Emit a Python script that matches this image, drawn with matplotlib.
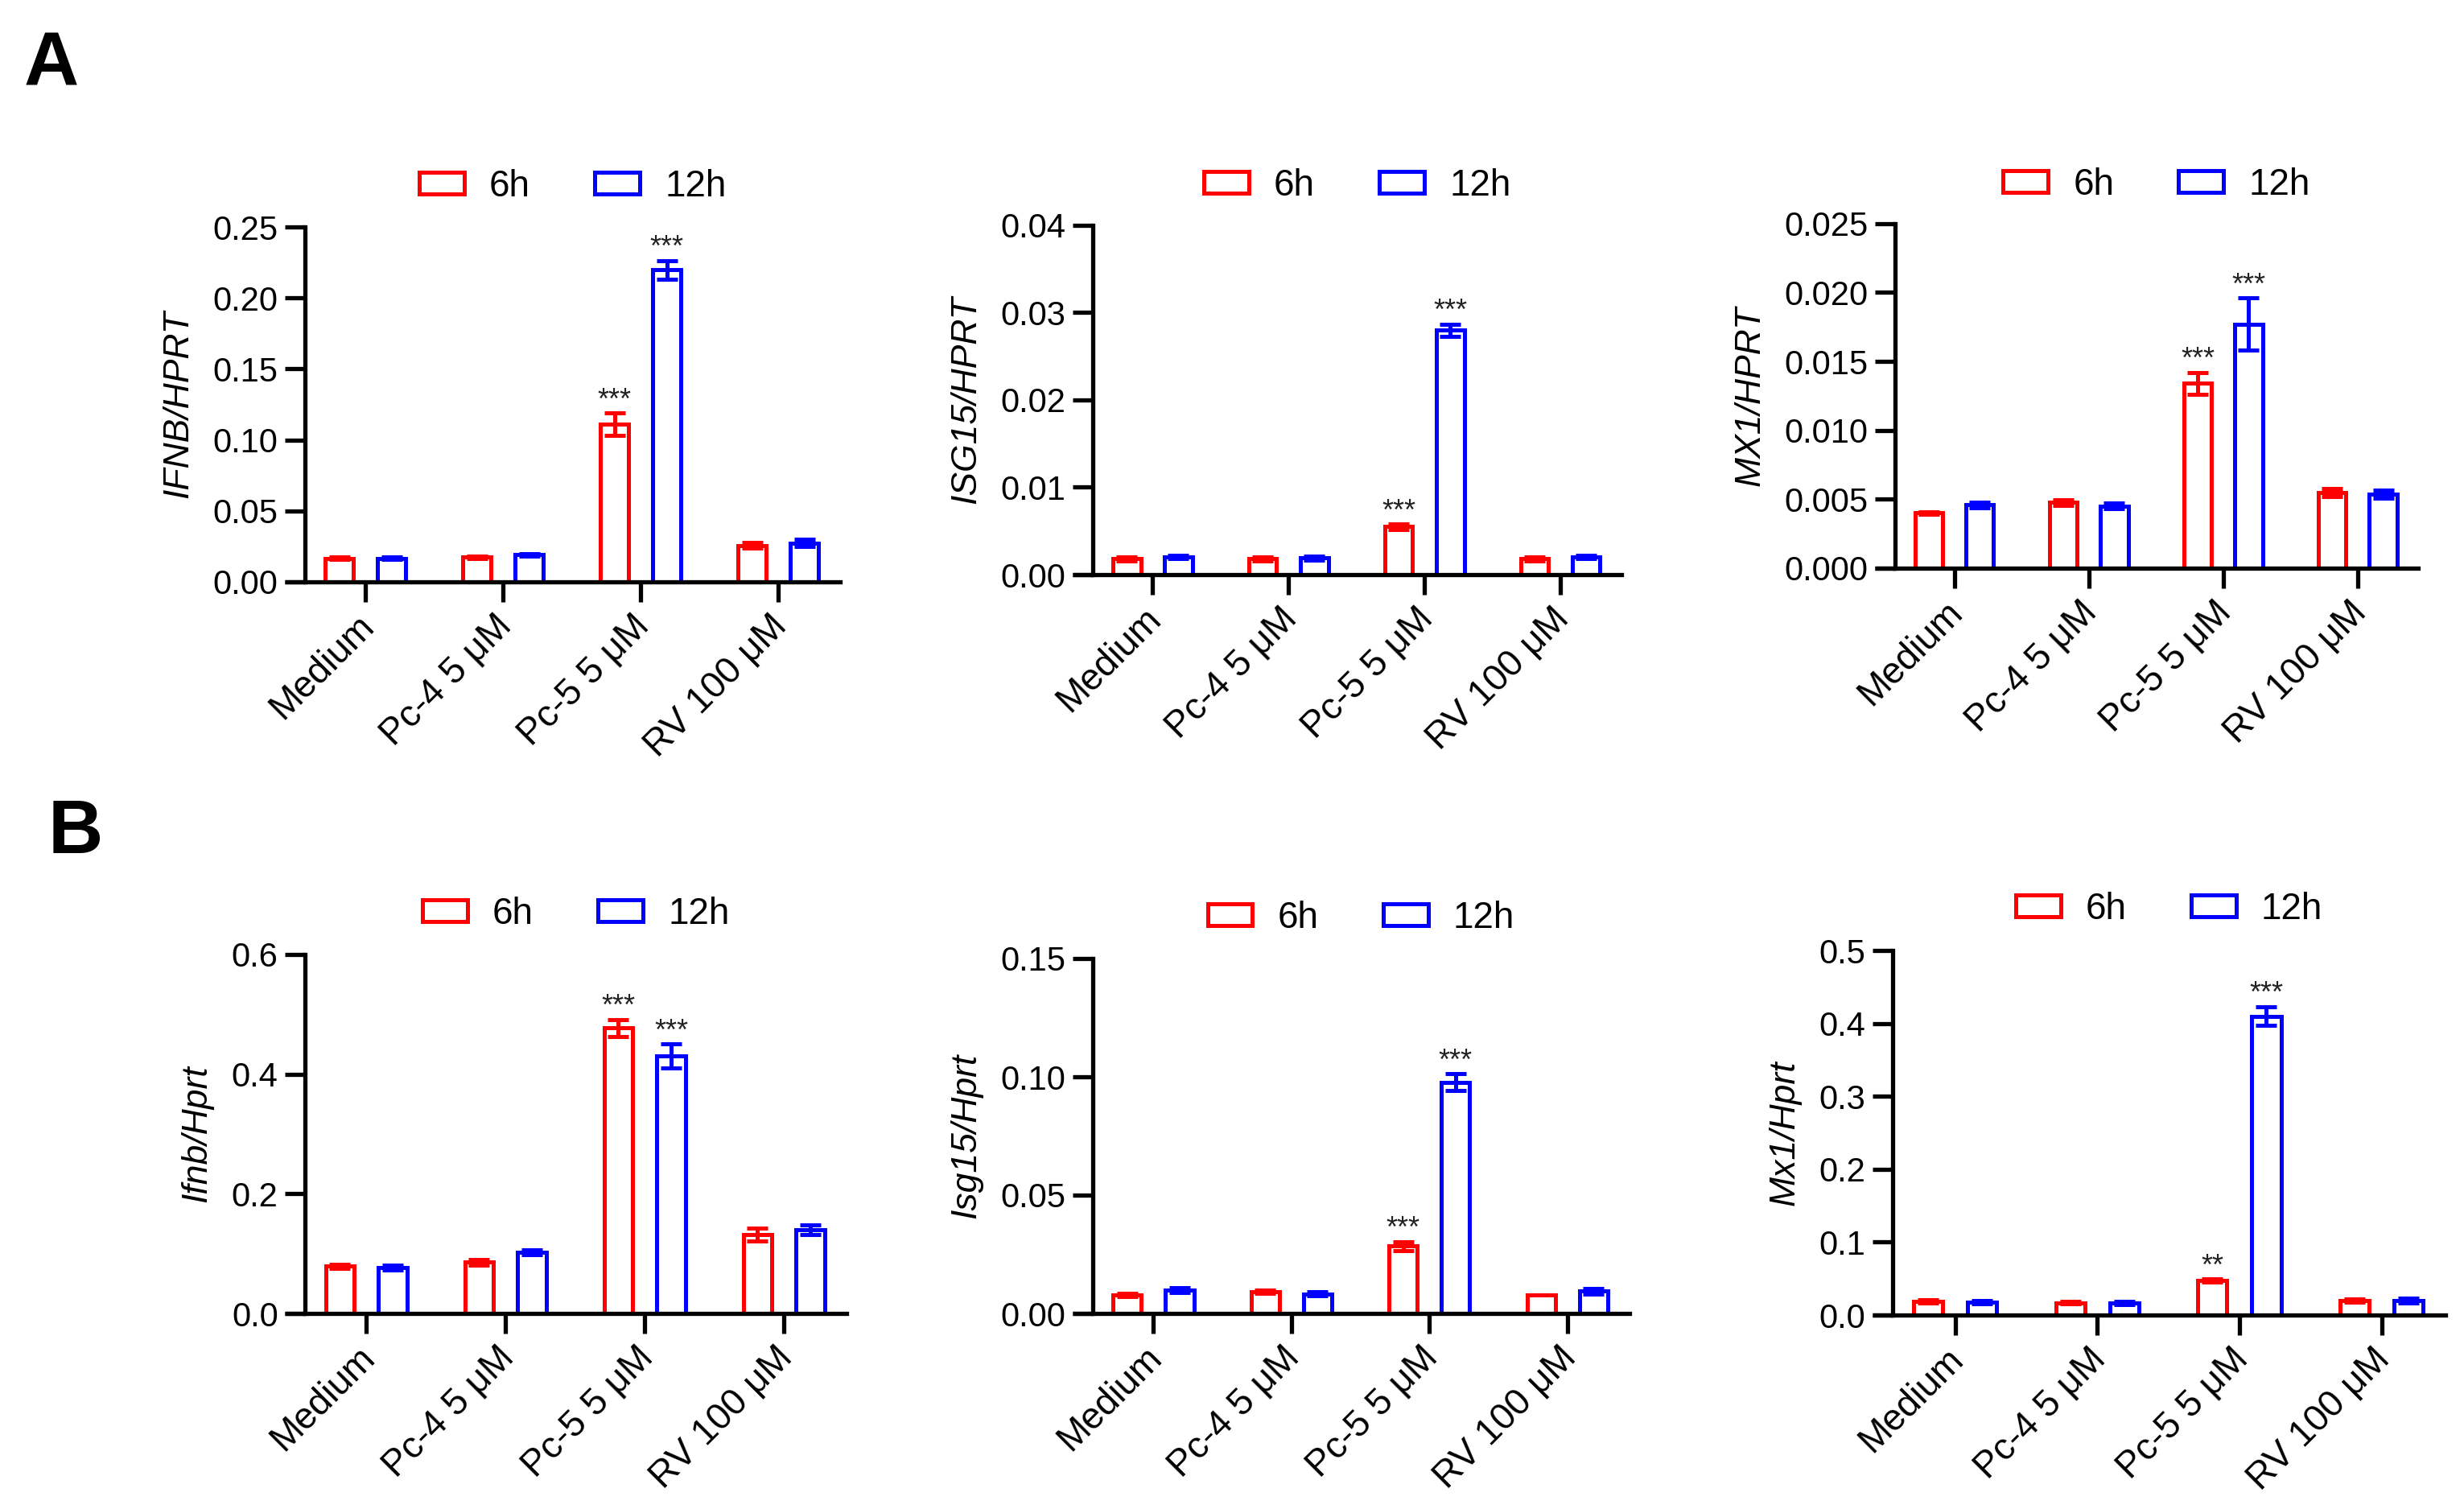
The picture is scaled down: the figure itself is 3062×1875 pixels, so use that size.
import matplotlib
matplotlib.use("Agg")
import matplotlib.pyplot as plt
import numpy as np
from matplotlib.patches import Patch

plt.rcParams['font.family'] = ['Liberation Sans', 'DejaVu Sans']

# --- data ---
categories = ['Medium', 'Pc-4 5 μM', 'Pc-5 5 μM', 'RV 100 μM']
series_names = ['6h', '12h']

# A: human genes
ifnb_6h = [0.0167, 0.0175, 0.111, 0.0257]
ifnb_6h_err = [0.0008, 0.0008, 0.008, 0.002]
ifnb_12h = [0.0167, 0.019, 0.2197, 0.0274]
ifnb_12h_err = [0.0008, 0.0008, 0.0065, 0.0025]
ifnb_stars = [['', '', '***', ''], ['', '', '***', '']]
ifnb_ticks = [0.00, 0.05, 0.10, 0.15, 0.20, 0.25]

isg15_6h = [0.0018, 0.0018, 0.0055, 0.0018]
isg15_6h_err = [0.0002, 0.0002, 0.0003, 0.0002]
isg15_12h = [0.0020, 0.0019, 0.0280, 0.0020]
isg15_12h_err = [0.0002, 0.0002, 0.0007, 0.0002]
isg15_stars = [['', '', '***', ''], ['', '', '***', '']]
isg15_ticks = [0.00, 0.01, 0.02, 0.03, 0.04]

mx1_6h = [0.0040, 0.00476, 0.0134, 0.0055]
mx1_6h_err = [0.0001, 0.0002, 0.0008, 0.0003]
mx1_12h = [0.0046, 0.0045, 0.0177, 0.00535]
mx1_12h_err = [0.0002, 0.0002, 0.0019, 0.0003]
mx1_stars = [['', '', '***', ''], ['', '', '***', '']]
mx1_ticks = [0.000, 0.005, 0.010, 0.015, 0.020, 0.025]

# B: mouse genes
m_ifnb_6h = [0.0787, 0.0855, 0.477, 0.132]
m_ifnb_6h_err = [0.004, 0.005, 0.014, 0.011]
m_ifnb_12h = [0.0766, 0.1026, 0.430, 0.140]
m_ifnb_12h_err = [0.004, 0.004, 0.020, 0.008]
m_ifnb_stars = [['', '', '***', ''], ['', '', '***', '']]
m_ifnb_ticks = [0.0, 0.2, 0.4, 0.6]

m_isg15_6h = [0.0078, 0.0092, 0.0285, 0.0078]
m_isg15_6h_err = [0.0008, 0.0008, 0.0018, 0.0]
m_isg15_12h = [0.0099, 0.0083, 0.0977, 0.0095]
m_isg15_12h_err = [0.0009, 0.0009, 0.0035, 0.0012]
m_isg15_stars = [['', '', '***', ''], ['', '', '***', '']]
m_isg15_ticks = [0.00, 0.05, 0.10, 0.15]

m_mx1_6h = [0.0185, 0.0168, 0.0477, 0.0196]
m_mx1_6h_err = [0.002, 0.0015, 0.002, 0.002]
m_mx1_12h = [0.018, 0.0168, 0.410, 0.020]
m_mx1_12h_err = [0.002, 0.002, 0.013, 0.003]
m_mx1_stars = [['', '', '**', ''], ['', '', '***', '']]
m_mx1_ticks = [0.0, 0.1, 0.2, 0.3, 0.4, 0.5]

RED = '#FF0000'
BLUE = '#0000FF'
BAR_LW = 1.8
AX_LW = 1.9
FS = 15

W, H = 3062, 1875
DPI = 200
fig = plt.figure(figsize=(W / DPI, H / DPI), dpi=DPI)


def draw_panel(rect, ylabel, means, errs, stars, yticks, fmt):
    ax = fig.add_axes(rect)
    x = np.arange(len(categories))
    off = 0.19
    width = 0.205
    for i, (m, e, col) in enumerate(zip(means, errs, [RED, BLUE])):
        xs = x - off if i == 0 else x + off
        ax.bar(xs, m, width, facecolor='white', edgecolor=col, linewidth=BAR_LW,
               yerr=e, error_kw=dict(ecolor=col, elinewidth=BAR_LW, capsize=4.7,
                                     capthick=BAR_LW), zorder=2)
        for xi, mi, ei, s in zip(xs, m, e, stars[i]):
            if s:
                ax.annotate(s, (xi, mi + ei), xytext=(0, 2), textcoords='offset points',
                            ha='center', va='baseline', fontsize=13, color='#222222')
    ax.set_xlim(-0.44, 3.45)
    ax.set_ylim(yticks[0], yticks[-1])
    ax.set_yticks(yticks)
    ax.set_yticklabels([fmt.format(t) for t in yticks])
    ax.set_xticks(x)
    ax.set_xticklabels(categories, rotation=45, ha='right', va='center_baseline',
                       rotation_mode='anchor', fontsize=16.5)
    for sp in ['top', 'right']:
        ax.spines[sp].set_visible(False)
    for sp in ['left', 'bottom']:
        ax.spines[sp].set_linewidth(AX_LW)
    ax.tick_params(axis='y', width=AX_LW, length=9, labelsize=FS, pad=3,
                   colors='black')
    ax.tick_params(axis='x', width=AX_LW, length=9, pad=7, colors='black')
    ax.set_ylabel(ylabel, fontsize=16, style='italic', labelpad=8)
    # x axis line continues left through the y tick length
    ext = 25 / (rect[2] * W)
    ax.plot([-ext, 0], [0, 0], transform=ax.transAxes, color='black',
            lw=AX_LW, clip_on=False, solid_capstyle='butt')
    handles = [Patch(facecolor='white', edgecolor=c, linewidth=BAR_LW, label=n)
               for c, n in zip([RED, BLUE], series_names)]
    ax.legend(handles=handles, loc='center', bbox_to_anchor=(0.5, 1.113), ncol=2,
              frameon=False, fontsize=16.5, handlelength=1.22, handleheight=0.53,
              handletextpad=0.68, columnspacing=1.75)
    return ax


draw_panel([0.1238, 0.6144, 0.2172, 0.2352], 'IFNB/HPRT',
           [ifnb_6h, ifnb_12h], [ifnb_6h_err, ifnb_12h_err], ifnb_stars,
           ifnb_ticks, '{:.2f}')
draw_panel([0.4435, 0.6192, 0.2146, 0.2315], 'ISG15/HPRT',
           [isg15_6h, isg15_12h], [isg15_6h_err, isg15_12h_err], isg15_stars,
           isg15_ticks, '{:.2f}')
draw_panel([0.7691, 0.6235, 0.2123, 0.2283], 'MX1/HPRT',
           [mx1_6h, mx1_12h], [mx1_6h_err, mx1_12h_err], mx1_stars,
           mx1_ticks, '{:.3f}')
draw_panel([0.1238, 0.1296, 0.2198, 0.2379], 'Ifnb/Hprt',
           [m_ifnb_6h, m_ifnb_12h], [m_ifnb_6h_err, m_ifnb_12h_err], m_ifnb_stars,
           m_ifnb_ticks, '{:.1f}')
draw_panel([0.4435, 0.1296, 0.2178, 0.2352], 'Isg15/Hprt',
           [m_isg15_6h, m_isg15_12h], [m_isg15_6h_err, m_isg15_12h_err], m_isg15_stars,
           m_isg15_ticks, '{:.2f}')
draw_panel([0.7681, 0.1285, 0.2244, 0.2416], 'Mx1/Hprt',
           [m_mx1_6h, m_mx1_12h], [m_mx1_6h_err, m_mx1_12h_err], m_mx1_stars,
           m_mx1_ticks, '{:.1f}')

fig.text(0.0098, 0.943, 'A', fontsize=34, weight='bold', va='baseline')
fig.text(0.0196, 0.4347, 'B', fontsize=34, weight='bold', va='baseline')

fig.savefig('out.png', dpi=DPI, facecolor='white')
